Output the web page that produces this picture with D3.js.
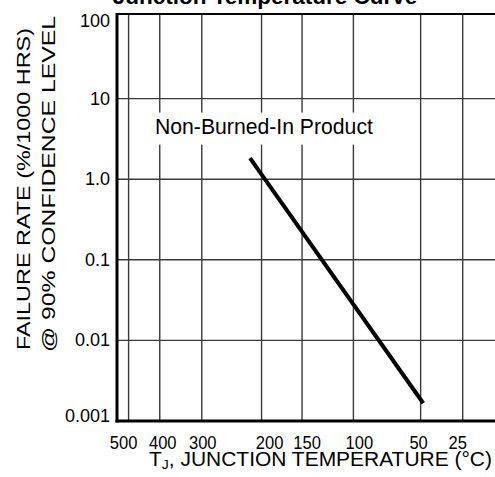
<!DOCTYPE html>
<html>
<head>
<meta charset="utf-8">
<script src="https://cdn.jsdelivr.net/npm/d3@7/dist/d3.min.js"></script>
<style>
  html, body { margin: 0; padding: 0; background: #fff; }
  svg { display: block; font-family: "Liberation Sans", Arial, Helvetica, sans-serif; }
</style>
</head>
<body>
<svg id="chart" width="495" height="477"></svg>
<script>
// ---- data ----
const title = "Junction Temperature Curve";
const tempTicks = [500, 400, 300, 200, 150, 100, 50, 25];          // °C
const rateTicks = [100, 10, 1, 0.1, 0.01, 0.001];                 // %/1000 hrs
const rateTickLabels = ["100", "10", "1.0", "0.1", "0.01", "0.001"];
const curveLabel = "Non-Burned-In Product";
const curveTemps = [216.5, 48.3];      // °C
const curveRates = [1.83, 0.00166];    // %/1000 hrs
const yTitleLines = ["FAILURE RATE (%/1000 HRS)", "@ 90% CONFIDENCE LEVEL"];

// ---- layout ----
const svg = d3.select("#chart");
const pLeft = 117, pRight = 500, pTop = 14, pBottom = 421;
// small horizontal nudges of the x tick labels, as set in the original artwork
const xLabelNudge = [-5, 3, 1, 8, 5, 6, -2, -5];

// Arrhenius scale: linear in 1/T(K)
const inv = t => 1 / (t + 273.15);
const xInv = d3.scaleLinear().domain([inv(500), inv(25)]).range([128.6, 462.7]);
const x = t => xInv(inv(t));
const y = d3.scaleLog().domain([0.001, 100]).range([pBottom, 18]);

// gridlines
const grid = svg.append("g").attr("stroke", "#3a3a3a").attr("stroke-width", 1.4);
grid.selectAll("line.v").data(tempTicks).join("line")
  .attr("x1", d => x(d)).attr("x2", d => x(d))
  .attr("y1", pTop).attr("y2", pBottom);
grid.selectAll("line.h").data(rateTicks.slice(1, -1)).join("line")
  .attr("x1", pLeft).attr("x2", pRight)
  .attr("y1", d => y(d)).attr("y2", d => y(d));

// white label box and label
const lbl = svg.append("text")
  .attr("x", 155).attr("y", 134)
  .attr("font-size", 21.2).attr("fill", "#000")
  .text(curveLabel);
const bb = lbl.node().getBBox();
svg.insert("rect", "text")
  .attr("x", bb.x - 5).attr("y", y(10) + 14)
  .attr("width", bb.width + 10).attr("height", 32)
  .attr("fill", "#fff");

// frame
svg.append("line").attr("x1", pLeft).attr("x2", pRight).attr("y1", pTop).attr("y2", pTop)
  .attr("stroke", "#000").attr("stroke-width", 2);
svg.append("line").attr("x1", pLeft).attr("x2", pLeft).attr("y1", pTop - 1).attr("y2", pBottom + 1.5)
  .attr("stroke", "#000").attr("stroke-width", 3);
svg.append("line").attr("x1", pLeft - 1.5).attr("x2", pRight).attr("y1", pBottom).attr("y2", pBottom)
  .attr("stroke", "#000").attr("stroke-width", 3);

// curve
const line = d3.line().x(d => x(d[0])).y(d => y(d[1]));
svg.append("path")
  .datum(curveTemps.map((t, i) => [t, curveRates[i]]))
  .attr("d", line)
  .attr("fill", "none").attr("stroke", "#000").attr("stroke-width", 4);

// y tick labels
svg.append("g").selectAll("text").data(rateTicks).join("text")
  .attr("x", 110)
  .attr("y", (d, i) => y(d) + (i === 0 ? 9 : i === rateTicks.length - 1 ? 1 : 6))
  .attr("text-anchor", "end").attr("font-size", 18)
  .text((d, i) => rateTickLabels[i]);

// x tick labels
svg.append("g").selectAll("text").data(tempTicks).join("text")
  .attr("x", (d, i) => x(d) + xLabelNudge[i]).attr("y", 449)
  .attr("text-anchor", "middle").attr("font-size", 18)
  .attr("textLength", d => String(d).length * 9.2).attr("lengthAdjust", "spacingAndGlyphs")
  .text(d => d);

// x title
const xt = svg.append("text").attr("x", 320.5).attr("y", 466)
  .attr("text-anchor", "middle").attr("font-size", 19.5)
  .attr("textLength", 343).attr("lengthAdjust", "spacingAndGlyphs");
xt.append("tspan").text("T");
xt.append("tspan").attr("font-size", 13).attr("dy", 3).text("J");
xt.append("tspan").attr("dy", -3).text(", JUNCTION TEMPERATURE (°C)");

// y title
const yLens = [322, 336];
svg.append("g").selectAll("text").data(yTitleLines).join("text")
  .attr("transform", (d, i) => `translate(${30 + i * 25},${189 - i * 5}) rotate(-90)`)
  .attr("text-anchor", "middle").attr("font-size", 18.5)
  .attr("textLength", (d, i) => yLens[i]).attr("lengthAdjust", "spacingAndGlyphs")
  .text(d => d);

// title (clipped at top)
svg.append("text").attr("x", 265).attr("y", 4)
  .attr("text-anchor", "middle").attr("font-size", 22.5).attr("font-weight", "bold")
  .text(title);
</script>
</body>
</html>
